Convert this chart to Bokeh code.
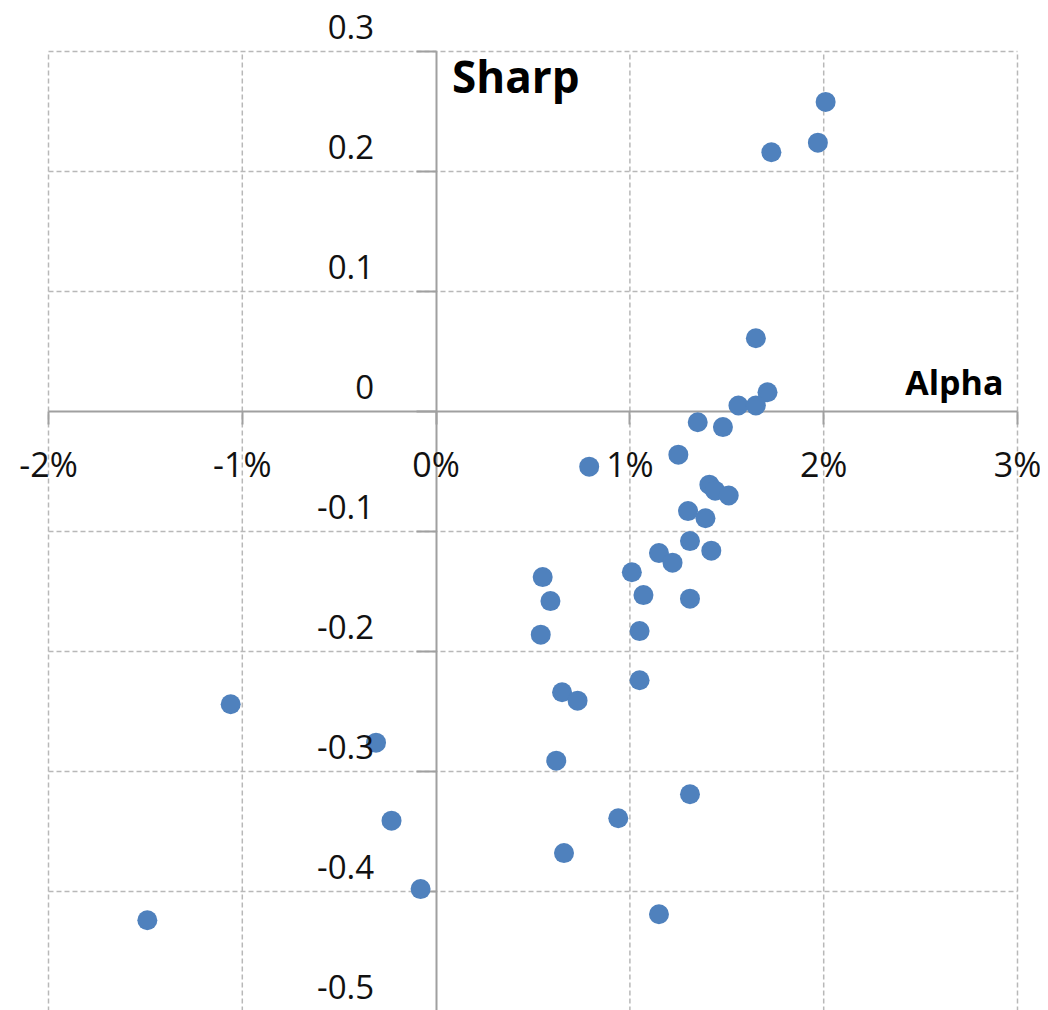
from bokeh.plotting import figure
from bokeh.models import (ColumnDataSource, LabelSet, Label, LinearAxis, FixedTicker,
                          CustomJSTickFormatter, Range1d)
from bokeh.core.properties import value
from bokeh.embed import file_html
from bokeh.resources import INLINE

# ---- data (alpha in %, Sharpe ratio) ----
alpha = [2.01, 1.97, 1.73, 1.65, 1.71, 1.56, 1.65, 1.35, 1.48, 1.25,
         0.79, 1.41, 1.44, 1.51, 1.30, 1.39, 1.31, 1.42, 1.15, 1.22,
         1.01, 0.55, 1.07, 1.31, 0.59, 1.05, 0.54, 1.05, 0.65, 0.73,
         -1.06, -0.31, 0.62, 1.31, 0.94, -0.23, 0.66, -0.08, -1.49, 1.15]
sharp = [0.258, 0.224, 0.216, 0.061, 0.016, 0.005, 0.005, -0.009, -0.013, -0.036,
         -0.046, -0.061, -0.066, -0.070, -0.083, -0.089, -0.108, -0.116, -0.118, -0.126,
         -0.134, -0.138, -0.153, -0.156, -0.158, -0.183, -0.186, -0.224, -0.234, -0.241,
         -0.244, -0.276, -0.291, -0.319, -0.339, -0.341, -0.368, -0.398, -0.424, -0.419]

x_ticks = [-2, -1, 0, 1, 2, 3]
x_tick_labels = ["-2%", "-1%", "0%", "1%", "2%", "3%"]
y_ticks = [0.3, 0.2, 0.1, 0.0, -0.1, -0.2, -0.3, -0.4, -0.5]
y_tick_labels = ["0.3", "0.2", "0.1", "0", "-0.1", "-0.2", "-0.3", "-0.4", "-0.5"]
x_title = "Alpha"
y_title = "Sharp"

FONT = "Open Sans"
TEXT = "#111111"
AXIS = "#a0a0a0"
GRID = "#b8b8b8"
DOT = "#4F81BD"

# frame covers the whole canvas; the plotting box (-2..3, -0.5..0.3) sits inside it
p = figure(width=1040, height=1010,
           x_range=Range1d(-2.2477, 3.1187), y_range=Range1d(-0.4992, 0.3425),
           x_axis_type=None, y_axis_type=None,
           output_backend="svg", toolbar_location=None,
           min_border=0, min_border_left=0, min_border_right=0,
           min_border_top=0, min_border_bottom=0)
p.outline_line_color = None
p.background_fill_color = "white"
p.border_fill_color = "white"

xmin, xmax = x_ticks[0], x_ticks[-1]
ymin, ymax = y_ticks[-1], y_ticks[0]

# dashed grid (including the outer box), bounded to the plotting box
gx = [t for t in x_ticks if t != 0]
gy = [t for t in y_ticks if t != 0]
p.segment(x0=gx, x1=gx, y0=[ymin] * len(gx), y1=[ymax] * len(gx),
          line_color=GRID, line_width=1.5, line_dash="5 3", level="image")
p.segment(x0=[xmin] * len(gy), x1=[xmax] * len(gy), y0=gy, y1=gy,
          line_color=GRID, line_width=1.5, line_dash="5 3", level="image")

# axes crossing at zero
xaxis = LinearAxis(fixed_location=0, ticker=FixedTicker(ticks=x_ticks),
                   formatter=CustomJSTickFormatter(code="return ''"),
                   bounds=(xmin, xmax),
                   axis_line_color=AXIS, axis_line_width=2,
                   major_tick_line_color=AXIS, major_tick_line_width=2,
                   major_tick_in=0, major_tick_out=13, minor_tick_out=0, minor_tick_in=0)
yaxis = LinearAxis(fixed_location=0, ticker=FixedTicker(ticks=y_ticks),
                   formatter=CustomJSTickFormatter(code="return ''"),
                   bounds=(ymin, ymax),
                   axis_line_color=AXIS, axis_line_width=2,
                   major_tick_line_color=AXIS, major_tick_line_width=2,
                   major_tick_in=0, major_tick_out=20, minor_tick_out=0, minor_tick_in=0)
xaxis.level = "underlay"
yaxis.level = "underlay"
p.add_layout(xaxis, "below")
p.add_layout(yaxis, "left")

# points
src = ColumnDataSource(dict(x=alpha, y=sharp))
p.scatter("x", "y", source=src, size=20, fill_color=DOT, line_color=None)

# tick labels
xl = ColumnDataSource(dict(x=x_ticks, y=[0] * len(x_ticks), t=x_tick_labels))
p.add_layout(LabelSet(x="x", y="y", text="t", source=xl, y_offset=-53,
                      text_align="center", text_baseline="middle",
                      text_font=value(FONT), text_font_size="34px", text_color=TEXT))
yl = ColumnDataSource(dict(x=[0] * len(y_ticks), y=y_ticks, t=y_tick_labels))
p.add_layout(LabelSet(x="x", y="y", text="t", source=yl, x_offset=-62, y_offset=24,
                      text_align="right", text_baseline="middle",
                      text_font=value(FONT), text_font_size="33px", text_color=TEXT))

# axis titles
p.add_layout(Label(x=0, y=ymax, text=y_title, x_offset=16, y_offset=-25,
                   text_align="left", text_baseline="middle",
                   text_font=FONT, text_font_style="bold", text_font_size="44px",
                   text_color="#000000"))
p.add_layout(Label(x=xmax, y=0, text=x_title, x_offset=-14, y_offset=29,
                   text_align="right", text_baseline="middle",
                   text_font=FONT, text_font_style="bold", text_font_size="34px",
                   text_color="#000000"))

open("out.html", "w").write(file_html(p, INLINE))
